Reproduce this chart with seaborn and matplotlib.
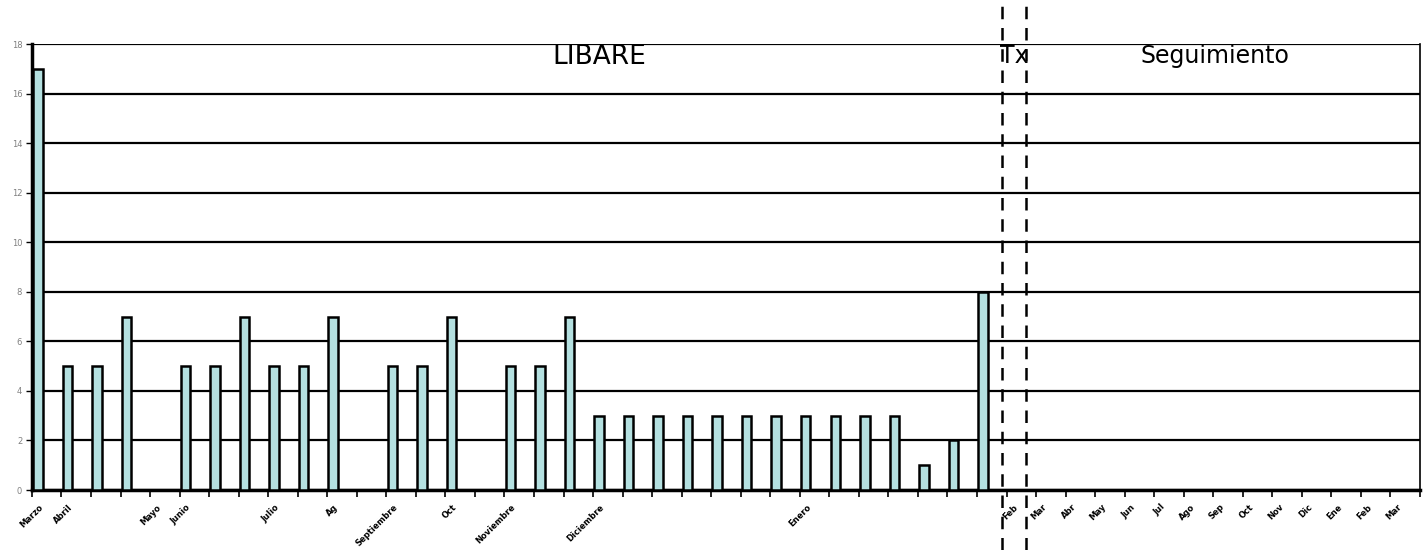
import numpy as np
import pandas as pd
import matplotlib
matplotlib.use('Agg')
import matplotlib.pyplot as plt
import seaborn as sns

# visit counts per period (33 periods with data, 14 empty follow-up periods)
values = [17, 5, 5, 7, 0, 5, 5, 7, 5, 5, 7, 0, 5, 5, 7, 0, 5, 5, 7,
          3, 3, 3, 3, 3, 3, 3, 3, 3, 3, 3, 1, 2, 8]
n_followup = 14

tick_labels = ['Marzo', 'Abril', '', '', 'Mayo', 'Junio', '', '', 'Julio', '', 'Ag',
               '', 'Septiembre', '', 'Oct', '', 'Noviembre', '', '', 'Diciembre',
               '', '', '', '', '', '', 'Enero', '', '', '', '', '', '',
               'Feb', 'Mar', 'Abr', 'May', 'Jun', 'Jul', 'Ago', 'Sep', 'Oct',
               'Nov', 'Dic', 'Ene', 'Feb', 'Mar']

sections = ['LIBARE', 'Tx', 'Seguimiento']

n = len(values) + n_followup
df = pd.DataFrame({'pos': np.arange(n),
                   'val': values + [np.nan] * n_followup})

sns.set_style('white')
plt.rcParams['text.color'] = 'black'
fig = plt.figure(figsize=(14.27, 5.5), dpi=100)
ax = fig.add_axes([0.0224, 0.109, 0.9727, 0.811])

sns.barplot(data=df, x='pos', y='val', native_scale=True, width=0.32,
            color='#b4e0e0', edgecolor='black', linewidth=1.8,
            saturation=1, errorbar=None, ax=ax, zorder=3)

ax.set_xlim(-0.2, n - 0.2)
ax.set_ylim(0, 18)
ax.set_yticks(range(0, 19, 2))
ax.tick_params(axis='y', left=True, labelsize=6, labelcolor='#808080', length=4,
               width=1, color='black', pad=3)
ax.yaxis.grid(True, color='black', linewidth=1.6, zorder=0)
ax.set_axisbelow(True)

# boundaries as major ticks, labels as minor ticks
ax.set_xticks(np.arange(n + 1) - 0.2)
ax.set_xticklabels([])
ax.tick_params(axis='x', which='major', bottom=True, length=5, width=1.2, color='black')
ax.set_xticks(np.arange(n) + 0.02, minor=True)
ax.set_xticklabels(tick_labels, minor=True, rotation=45, ha='right',
                   rotation_mode='anchor', fontsize=6, fontweight='bold',
                   color='black')
ax.tick_params(axis='x', which='minor', bottom=True, length=0, pad=9)
ax.set_xlabel('')
ax.set_ylabel('')

for side in ['left', 'bottom']:
    ax.spines[side].set_linewidth(2.5)
    ax.spines[side].set_color('black')
ax.spines['right'].set_linewidth(1.2)
ax.spines['right'].set_color('black')
ax.spines['top'].set_visible(False)

# treatment window
for xv in [32.65, 33.46]:
    ax.axvline(xv, ymin=-0.135, ymax=1.09, color='black', linestyle=(0, (5, 3.5)),
               linewidth=1.8, clip_on=False, zorder=4)

ax.text(19.0, 18.0, sections[0], ha='center', va='top', fontsize=19)
ax.text(33.07, 18.0, sections[1], ha='center', va='top', fontsize=17)
ax.text(39.85, 18.0, sections[2], ha='center', va='top', fontsize=17)

fig.savefig('out.png', dpi=100)
